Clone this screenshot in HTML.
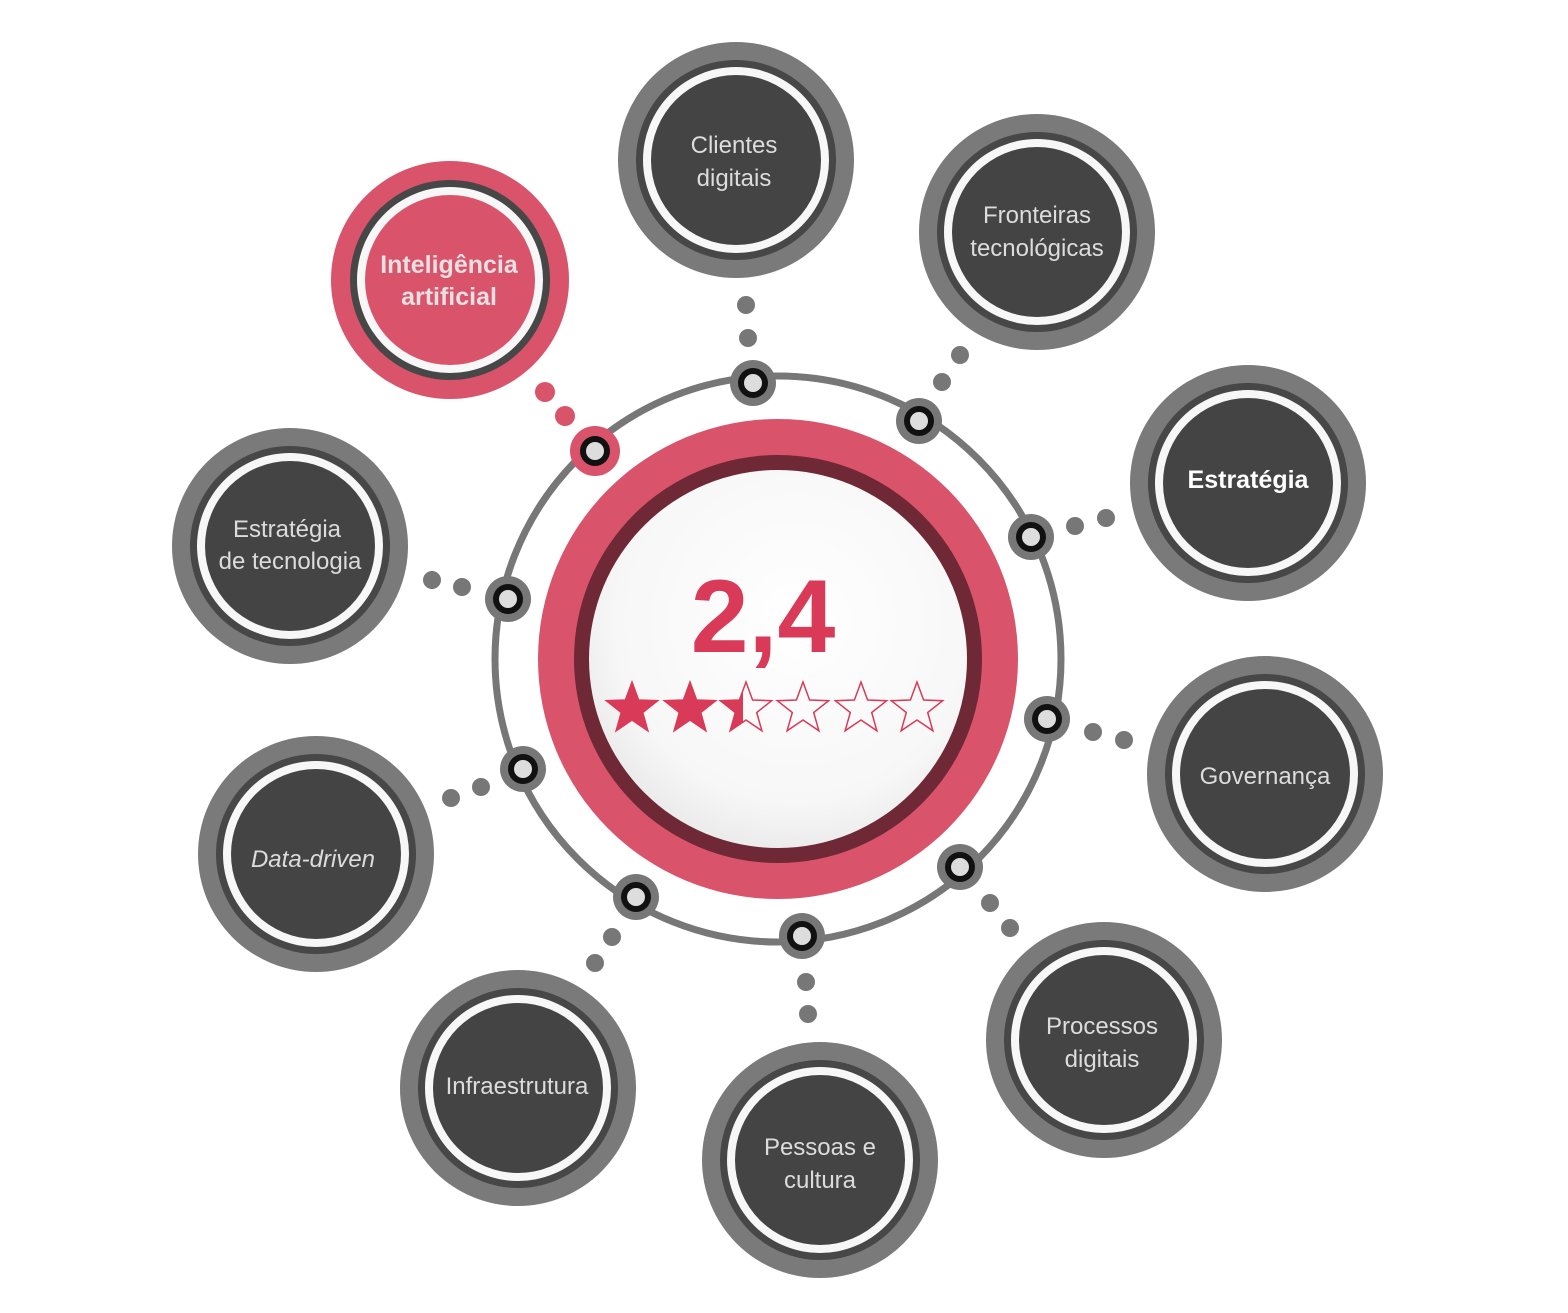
<!DOCTYPE html>
<html><head><meta charset="utf-8"><style>
html,body{margin:0;padding:0;background:#fff;}
svg{display:block}
text{font-family:"Liberation Sans",sans-serif;}
</style></head><body>
<svg width="1568" height="1313" viewBox="0 0 1568 1313" xmlns="http://www.w3.org/2000/svg">
<defs>
<radialGradient id="cg" cx="0.55" cy="0.4" r="0.6">
<stop offset="0" stop-color="#ffffff"/><stop offset="0.8" stop-color="#f7f7f7"/><stop offset="1" stop-color="#ececec"/>
</radialGradient>
<g id="node">
<circle r="118" fill="#7a7a7a"/>
<circle r="100" fill="#474747"/>
<circle r="93" fill="#f7f7f7"/>
<circle r="85" fill="#444444"/>
</g>
<g id="knob">
<circle r="23" fill="#777"/>
<circle r="15" fill="#111"/>
<circle r="9" fill="#ddd"/>
</g>
<polygon id="star" points="0,-27 6.6,-9 25.7,-8.3 10.7,3.5 15.9,21.8 0,11 -15.9,21.8 -10.7,3.5 -25.7,-8.3 -6.6,-9"/>
<clipPath id="half"><rect x="-30" y="-30" width="27" height="60"/></clipPath>
</defs>

<!-- orbit -->
<circle cx="778" cy="659" r="283" fill="none" stroke="#777" stroke-width="7"/>

<!-- dots -->
<g fill="#777">
<circle cx="746" cy="305" r="9"/><circle cx="748" cy="338" r="9"/>
<circle cx="960" cy="355" r="9"/><circle cx="942" cy="382" r="9"/>
<circle cx="1075" cy="526" r="9"/><circle cx="1106" cy="518" r="9"/>
<circle cx="1093" cy="732" r="9"/><circle cx="1124" cy="740" r="9"/>
<circle cx="990" cy="903" r="9"/><circle cx="1010" cy="928" r="9"/>
<circle cx="806" cy="982" r="9"/><circle cx="808" cy="1014" r="9"/>
<circle cx="612" cy="937" r="9"/><circle cx="595" cy="963" r="9"/>
<circle cx="481" cy="787" r="9"/><circle cx="451" cy="798" r="9"/>
<circle cx="462" cy="587" r="9"/><circle cx="432" cy="580" r="9"/>
</g>
<g fill="#d9536b"><circle cx="545" cy="392" r="10"/><circle cx="565" cy="416" r="10"/></g>

<!-- knobs -->
<use href="#knob" x="753" y="383"/>
<use href="#knob" x="919" y="421"/>
<use href="#knob" x="1031" y="537"/>
<use href="#knob" x="1047" y="719"/>
<use href="#knob" x="960" y="867"/>
<use href="#knob" x="802" y="936"/>
<use href="#knob" x="636" y="897"/>
<use href="#knob" x="523" y="769"/>
<use href="#knob" x="508" y="599"/>
<g transform="translate(595,451)"><circle r="25" fill="#d9536b"/><circle r="15" fill="#111"/><circle r="9" fill="#ddd"/></g>

<!-- center -->
<circle cx="778" cy="659" r="240" fill="#d9536b"/>
<circle cx="778" cy="659" r="204" fill="#6e2836"/>
<circle cx="778" cy="659" r="189" fill="url(#cg)"/>
<text x="763" y="652" text-anchor="middle" font-size="104" font-weight="bold" fill="#d93a57">2,4</text>
<g fill="#d93a57" stroke="#d93a57" stroke-width="1.5">
<use href="#star" x="632" y="709"/>
<use href="#star" x="690" y="709"/>
</g>
<g fill="none" stroke="#d93a57" stroke-width="1.5">
<use href="#star" x="746" y="709"/>
<use href="#star" x="803" y="709"/>
<use href="#star" x="861" y="709"/>
<use href="#star" x="917" y="709"/>
</g>
<g transform="translate(746,709)" clip-path="url(#half)"><use href="#star" fill="#d93a57"/></g>

<!-- nodes -->
<g transform="translate(450,280)">
<circle r="119" fill="#d9536b"/><circle r="100" fill="#474747"/><circle r="93" fill="#f7f7f7"/><circle r="85" fill="#d9536b"/>
</g>
<text x="449" y="273" text-anchor="middle" font-size="25" font-weight="bold" fill="#e6e0e2">Inteligência</text>
<text x="449" y="305" text-anchor="middle" font-size="25" font-weight="bold" fill="#e6e0e2">artificial</text>

<use href="#node" x="736" y="160"/>
<use href="#node" x="1037" y="232"/>
<use href="#node" x="1248" y="483"/>
<use href="#node" x="1265" y="774"/>
<use href="#node" x="1104" y="1040"/>
<use href="#node" x="820" y="1160"/>
<use href="#node" x="518" y="1088"/>
<use href="#node" x="316" y="854"/>
<use href="#node" x="290" y="546"/>

<g fill="#dcdcdc" font-size="24" text-anchor="middle">
<text x="734" y="153">Clientes</text><text x="734" y="186">digitais</text>
<text x="1037" y="223">Fronteiras</text><text x="1037" y="256">tecnológicas</text>
<text x="1248" y="488" font-weight="bold" fill="#fff" font-size="25">Estratégia</text>
<text x="1265" y="784">Governança</text>
<text x="1102" y="1034">Processos</text><text x="1102" y="1067">digitais</text>
<text x="820" y="1155">Pessoas e</text><text x="820" y="1188">cultura</text>
<text x="517" y="1094">Infraestrutura</text>
<text x="313" y="867" font-style="italic">Data-driven</text>
<text x="287" y="537">Estratégia</text><text x="290" y="569">de tecnologia</text>
</g>
</svg>
</body></html>
